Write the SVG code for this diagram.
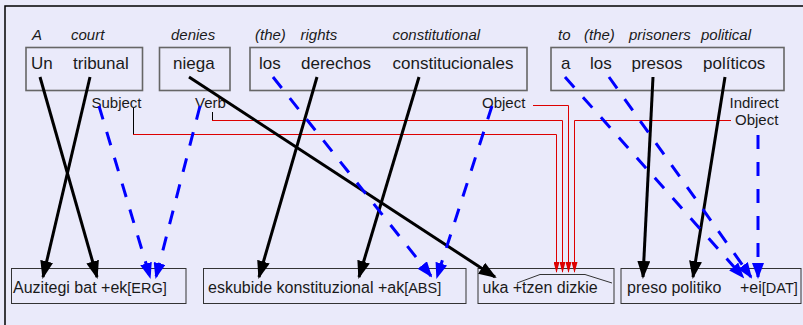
<svg xmlns="http://www.w3.org/2000/svg" width="803" height="325" viewBox="0 0 803 325">
<style>
  .bg { fill: #eaeafa; }
  .top { fill: none; stroke: #666; stroke-width: 1.6; }
  .bot { fill: none; stroke: #333; stroke-width: 1; }
  .w { font-family: "Liberation Sans", Arial, sans-serif; font-size: 17px; fill: #1a1a1a; }
  .gl { font-family: "Liberation Sans", Arial, sans-serif; font-size: 15px; font-style: italic; fill: #1a1a1a; }
  .role { font-family: "Liberation Sans", Arial, sans-serif; font-size: 15px; fill: #1a1a1a; }
  .bt { font-family: "Liberation Sans", Arial, sans-serif; font-size: 16px; fill: #1a1a1a; }
  .sm { font-size: 14.5px; }
  .blk { fill: none; stroke: #000; stroke-width: 3; marker-end: url(#ab); }
  .blu { fill: none; stroke: #0000ff; stroke-width: 3; stroke-dasharray: 14 13; marker-end: url(#au); }
  .red { fill: none; stroke: #dd0000; stroke-width: 1; marker-end: url(#ar); }
  .stub { fill: none; stroke: #000; stroke-width: 1; }
</style>
<defs>
  <marker id="ab" markerUnits="userSpaceOnUse" viewBox="0 0 18 13" markerWidth="18" markerHeight="13" refX="16" refY="6.5" orient="auto">
    <path d="M0,0 L18,6.5 L0,13 z" fill="#000"/>
  </marker>
  <marker id="au" markerUnits="userSpaceOnUse" viewBox="0 0 16 12" markerWidth="16" markerHeight="12" refX="14" refY="6" orient="auto">
    <path d="M0,0 L16,6 L0,12 z" fill="#0000ff"/>
  </marker>
  <marker id="ar" markerUnits="userSpaceOnUse" viewBox="0 0 11 6" markerWidth="11" markerHeight="6" refX="10" refY="3" orient="auto">
    <path d="M0,0 L11,3 L0,6 z" fill="#dd0000"/>
  </marker>
</defs>
<rect class="bg" x="0" y="0" width="803" height="325"/>
<rect x="5" y="6" width="900" height="400" fill="none" stroke="#000" stroke-width="1.5"/>

<g id="src-1">
  <rect class="top" x="26" y="47.5" width="116.5" height="43"/>
  <text class="gl" x="32" y="39.5">A</text>
  <text class="gl" x="71" y="39.5">court</text>
  <text class="w" x="31" y="69">Un</text>
  <text class="w" x="73" y="69">tribunal</text>
</g>
<g id="src-2">
  <rect class="top" x="159.5" y="47.5" width="70.5" height="43"/>
  <text class="gl" x="171" y="39.5">denies</text>
  <text class="w" x="173" y="69">niega</text>
</g>
<g id="src-3">
  <rect class="top" x="250" y="47.5" width="277" height="43"/>
  <text class="gl" x="255" y="39.5">(the)</text>
  <text class="gl" x="300.5" y="39.5">rights</text>
  <text class="gl" x="392.5" y="39.5">constitutional</text>
  <text class="w" x="259" y="69">los</text>
  <text class="w" x="301" y="69">derechos</text>
  <text class="w" x="392.5" y="69">constitucionales</text>
</g>
<g id="src-4">
  <rect class="top" x="551" y="47.5" width="233" height="43"/>
  <text class="gl" x="558" y="39.5">to</text>
  <text class="gl" x="584" y="39.5">(the)</text>
  <text class="gl" x="629" y="39.5">prisoners</text>
  <text class="gl" x="701" y="39.5">political</text>
  <text class="w" x="561" y="69">a</text>
  <text class="w" x="590" y="69">los</text>
  <text class="w" x="631.5" y="69">presos</text>
  <text class="w" x="703" y="69">políticos</text>
</g>

<g id="role-subject"><text class="role" x="91.5" y="107.5">Subject</text></g>
<g id="role-verb"><text class="role" x="195" y="107.5">Verb</text></g>
<g id="role-object"><text class="role" x="482" y="107.5">Object</text></g>
<g id="role-indirect">
  <text class="role" x="729.5" y="107.5">Indirect</text>
  <text class="role" x="735" y="124.5">Object</text>
</g>

<g id="tgt-erg">
  <rect class="bot" x="11.5" y="268.5" width="174.5" height="35"/>
  <text class="bt" x="13" y="293">Auzitegi bat +ek<tspan class="sm">[ERG]</tspan></text>
</g>
<g id="tgt-abs">
  <rect class="bot" x="203.5" y="268.5" width="262.5" height="35"/>
  <text class="bt" x="208" y="293">eskubide konstituzional +ak<tspan class="sm">[ABS]</tspan></text>
</g>
<g id="tgt-verb">
  <rect class="bot" x="478" y="268.5" width="136" height="35"/>
  <text class="bt" x="482.5" y="293">uka +tzen dizkie</text>
  <path d="M517,283 L540,274.5 L585,274.5 L612,283" fill="none" stroke="#333" stroke-width="1"/>
</g>
<g id="tgt-dat">
  <rect class="bot" x="621" y="268.5" width="180" height="35"/>
  <text class="bt" x="627" y="293">preso politiko</text>
  <text class="bt" x="740" y="293">+ei<tspan class="sm">[DAT]</tspan></text>
</g>

<g id="connectors">
  <path class="stub" d="M133.5,108 V134"/>
  <path class="stub" d="M212.5,112 V120"/>
  <path class="red" d="M133,134.5 H556.5 V272"/>
  <path class="red" d="M212,120.5 H562.5 V272"/>
  <path class="red" d="M533,105.5 H568.5 V272"/>
  <path class="red" d="M731,120.5 H574.5 V272"/>

  <path class="blk" d="M40,77 L97,277"/>
  <path class="blk" d="M90,77 L43,277"/>
  <path class="blk" d="M189,77 L495,277"/>
  <path class="blk" d="M317,77 L259,277"/>
  <path class="blk" d="M419,77 L359,277"/>
  <path class="blk" d="M653,77 L643,277"/>
  <path class="blk" d="M725,77 L693,277"/>

  <path class="blu" d="M99,106 L150,277"/>
  <path class="blu" d="M200,106 L156,277"/>
  <path class="blu" d="M273,77 L431,276"/>
  <path class="blu" d="M492,106 L437,277"/>
  <path class="blu" d="M565,77 L743,277"/>
  <path class="blu" d="M609,77 L751,277"/>
  <path class="blu" d="M758,135 L758,277"/>
</g>
</svg>
